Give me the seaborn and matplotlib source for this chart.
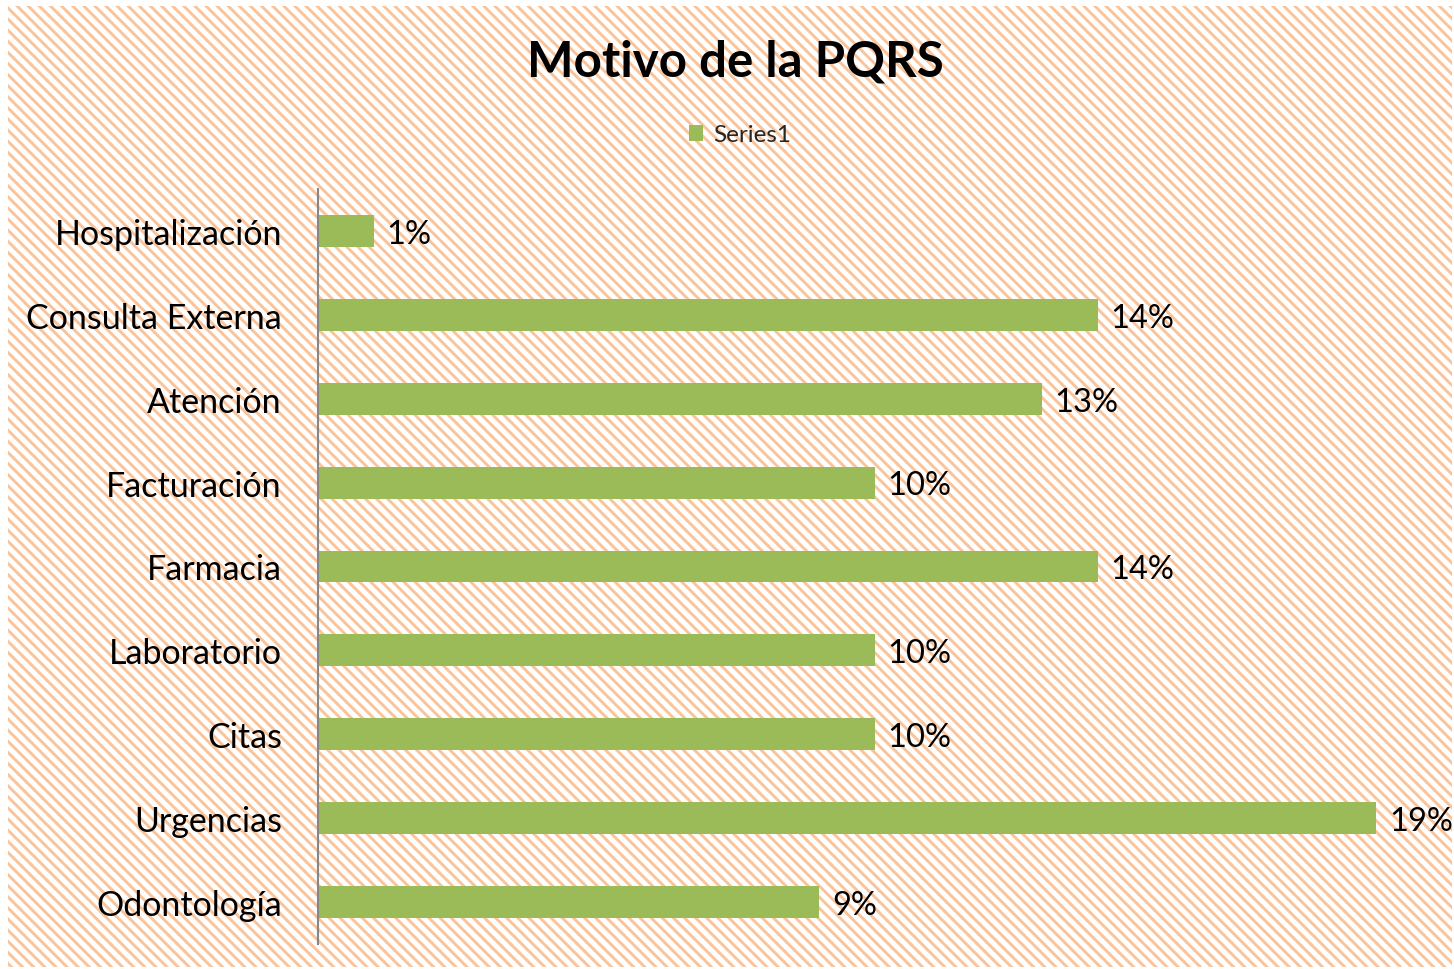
import matplotlib
matplotlib.use('Agg')
import matplotlib.pyplot as plt
import seaborn as sns
import pandas as pd
from matplotlib.patches import Rectangle

# Data
categories = ['Hospitalización', 'Consulta Externa', 'Atención', 'Facturación',
              'Farmacia', 'Laboratorio', 'Citas', 'Urgencias', 'Odontología']
values = [1, 14, 13, 10, 14, 10, 10, 19, 9]
labels = [f"{v}%" for v in values]
series_name = 'Series1'

df = pd.DataFrame({'Motivo': categories, 'Pct': values})

sns.set_theme(style='white')
plt.rcParams['font.family'] = ['Lato', 'DejaVu Sans']
plt.rcParams['hatch.linewidth'] = 2.1
plt.rcParams['hatch.color'] = '#FAC399'

fig = plt.figure(figsize=(14.54, 9.70), dpi=100)
fig.patch.set_facecolor('white')

# striped background (Excel pattern fill)
bg = Rectangle((8 / 1454, 2 / 970), 1444 / 1454, 961 / 970, transform=fig.transFigure,
               facecolor='white', edgecolor='#FAC399', hatch='\\\\\\', lw=0, zorder=-10)
fig.patches.append(bg)

ax = fig.add_axes([318 / 1454, 25 / 970, 1114 / 1454, 755 / 970])
ax.set_facecolor('none')

sns.barplot(data=df, x='Pct', y='Motivo', orient='h', color='#9BBB59',
            saturation=1, width=0.38, ax=ax, label=series_name, linewidth=0)

ax.set_xlim(0, 20)
ax.set_ylim(8.5, -0.5)
ax.set_xlabel('')
ax.set_ylabel('')
ax.set_xticks([])

for i, (v, lab) in enumerate(zip(values, labels)):
    ax.annotate(lab, (v, i), xytext=(9, -2), textcoords='offset points',
                va='center', ha='left', fontsize=23.5, color='black', annotation_clip=False)

ax.tick_params(axis='y', length=0, pad=26, labelsize=24.5, labelcolor='black')

for s in ['top', 'right', 'bottom']:
    ax.spines[s].set_visible(False)
ax.spines['left'].set_color('#868686')
ax.spines['left'].set_linewidth(1.5)

fig.text(735 / 1454, 1 - 62 / 970, 'Motivo de la PQRS', ha='center', va='center',
         fontsize=35.5, fontweight='bold', color='black')

leg = ax.legend(loc='center', bbox_to_anchor=(740 / 1454, 1 - 136 / 970),
                bbox_transform=fig.transFigure, frameon=False, fontsize=17.5,
                handlelength=0.6, handleheight=0.6, handletextpad=0.4)

fig.savefig('out.png', dpi=100)
